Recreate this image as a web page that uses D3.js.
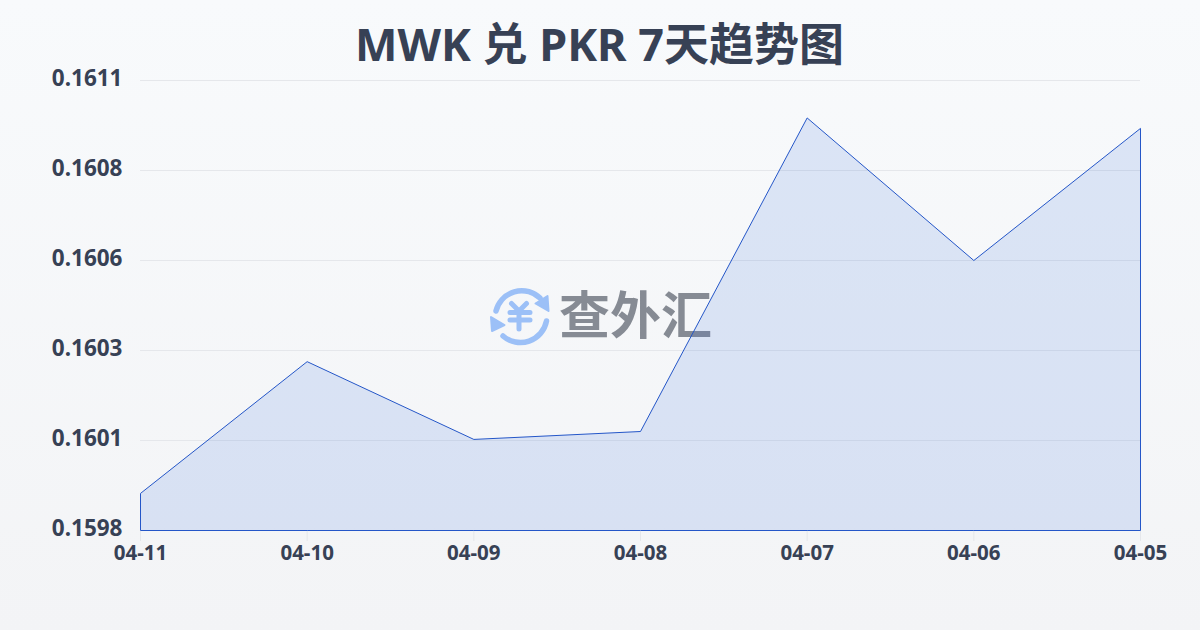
<!DOCTYPE html>
<html><head><meta charset="utf-8">
<script src="https://cdn.jsdelivr.net/npm/d3@7/dist/d3.min.js"></script>
<style>html,body{margin:0;padding:0;width:1200px;height:630px;overflow:hidden}
text{font-family:"Noto Sans","Noto Sans CJK SC",sans-serif}</style></head>
<body><svg id="c" width="1200" height="630"></svg>
<script>
const titleText = "MWK 兑 PKR 7天趋势图";
const categories = ["04-11","04-10","04-09","04-08","04-07","04-06","04-05"];
const values = [0.159903,0.160269,0.160053,0.160075,0.160946,0.16055,0.160917];
const yTickValues = [0.1598,0.16005,0.1603,0.16055,0.1608,0.16105];
const yTickLabels = ["0.1598","0.1601","0.1603","0.1606","0.1608","0.1611"];

const svg = d3.select("#c");
const defs = svg.append("defs");
const g = defs.append("linearGradient").attr("id","bg").attr("x1",0).attr("y1",0).attr("x2",0).attr("y2",1);
g.append("stop").attr("offset",0).attr("stop-color","#f8fafc");
g.append("stop").attr("offset",1).attr("stop-color","#f3f4f6");
svg.append("rect").attr("width",1200).attr("height",630).attr("fill","url(#bg)");

const x = d3.scalePoint().domain(categories).range([140,1140]);
const y = d3.scaleLinear().domain([0.1598,0.16105]).range([530,80]);
const textColor = "#374155";

svg.append("text").attr("x",599.5).attr("y",61).attr("text-anchor","middle")
  .attr("font-size",45).attr("font-weight",700).attr("fill",textColor).text(titleText);

// grid
svg.append("g").selectAll("line").data(yTickValues.slice(1)).join("line")
  .attr("x1",140).attr("x2",1140).attr("y1",d=>Math.round(y(d))+.5).attr("y2",d=>Math.round(y(d))+.5)
  .attr("stroke","#e5e7eb").attr("stroke-width",1);

// watermark
const wm = svg.append("g");
const blue="#9cc0f7";
const ic = wm.append("g").attr("transform","translate(520,316)").attr("fill","none").attr("stroke",blue).attr("stroke-linecap","round").attr("stroke-linejoin","round");
ic.append("path").attr("d","M-24,-5 A26.5,26.5 0 0 1 20,-18").attr("stroke-width",5.5);
ic.append("path").attr("d","M26.5,5 A26.5,26.5 0 0 1 -17,20").attr("stroke-width",5.5);
ic.append("path").attr("d","M28.5,-5 L27.5,-20 L15.5,-12.5 Z").attr("fill",blue).attr("stroke-width",2);
ic.append("path").attr("d","M-29,1 L-28,15 L-15.5,9 Z").attr("fill",blue).attr("stroke-width",2);
ic.append("path").attr("d","M-8.5,-12.5 L-1,-5 L6.5,-12.5 M-1,-4 V13 M-10,-3.5 H10 M-10,4 H10").attr("stroke-width",5);
wm.append("text").attr("x",559).attr("y",334).attr("font-size",51).attr("font-weight",700)
  .attr("fill","#868b94").style("font-family",'"Noto Sans CJK SC"').text("查外汇");

// area
const area = d3.area().x((d,i)=>x(categories[i])).y0(y(0.1598)).y1(d=>y(d));
svg.append("path").datum(values).attr("transform","translate(.5,.5)").attr("d",area).attr("fill","#3068dc").attr("fill-opacity",0.14)
  .attr("stroke","#2456c8").attr("stroke-width",1);

// axes
const yAxis = svg.append("g");
yAxis.selectAll("text").data(yTickValues).join("text")
  .attr("x",122.5).attr("y",d=>y(d)+6).attr("text-anchor","end")
  .attr("font-size",22.5).attr("font-weight",700).attr("fill",textColor)
  .text((d,i)=>yTickLabels[i]);
const xAxis = svg.append("g");
xAxis.selectAll("line").data(categories).join("line")
  .attr("x1",d=>x(d)+.5).attr("x2",d=>x(d)+.5).attr("y1",531).attr("y2",541).attr("stroke","#e5e7eb");
xAxis.selectAll("text").data(categories).join("text")
  .attr("x",d=>x(d)+.5).attr("y",560).attr("text-anchor","middle")
  .attr("font-size",20.5).attr("font-weight",700).attr("fill",textColor).text(d=>d);
</script></body></html>
